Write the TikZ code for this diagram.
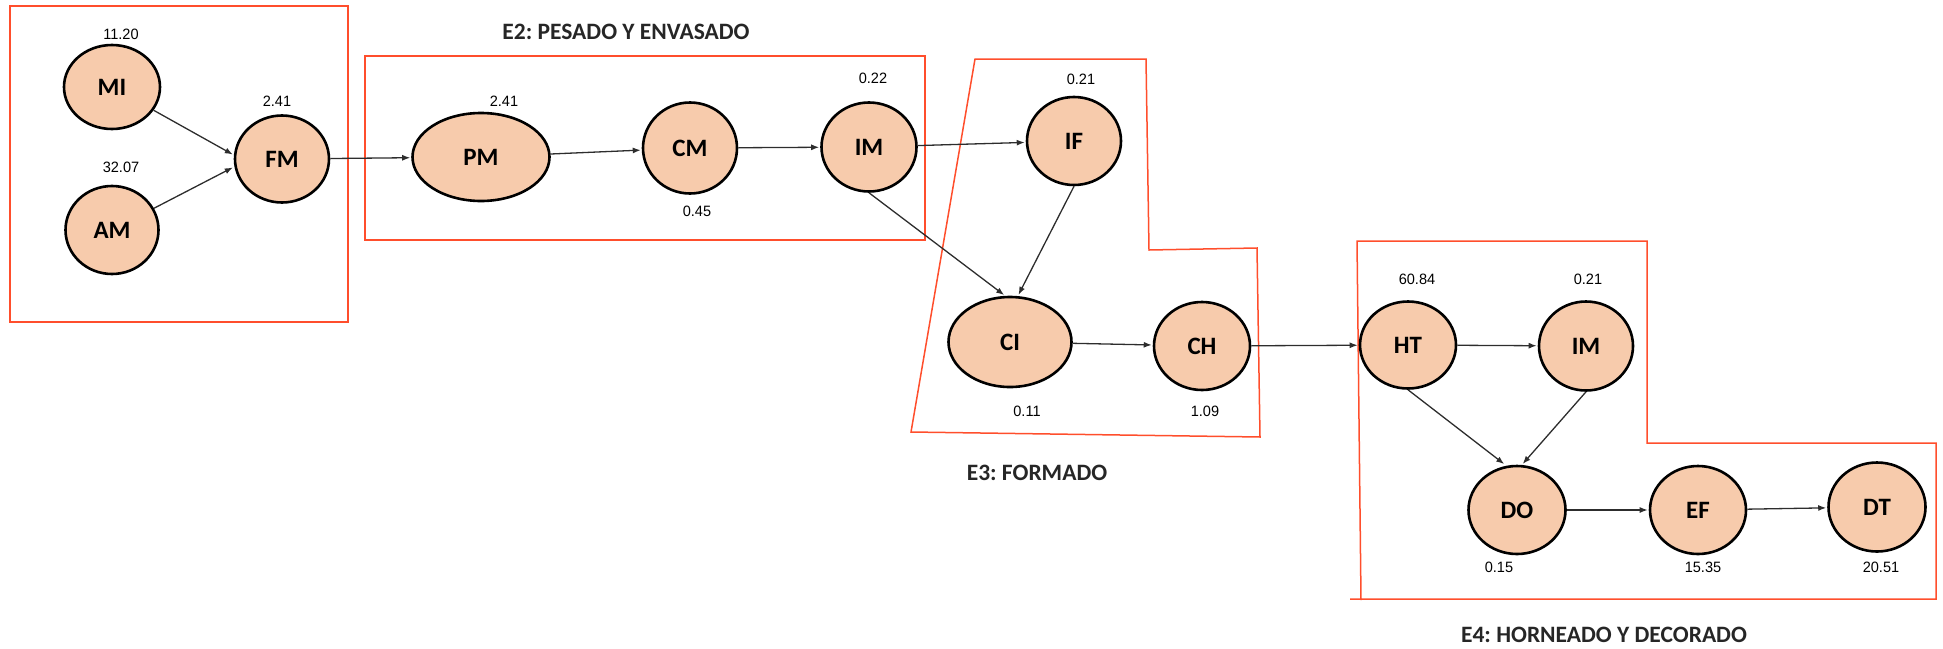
\documentclass[tikz,border=0pt]{standalone}
\usepackage{fontspec}
\setmainfont{Carlito}
\newfontfamily\numfont[FakeStretch=0.97]{Liberation Sans}
\usetikzlibrary{shapes.geometric,arrows.meta}
\frenchspacing
\definecolor{peach}{RGB}{247,203,172}
\definecolor{boxred}{RGB}{255,78,44}
\definecolor{arrowgray}{RGB}{45,45,45}
\tikzset{
  proc/.style={ellipse, draw=black, line width=2.6pt, fill=peach, inner sep=0pt,
     font=\fontsize{25}{25}\selectfont\bfseries},
  val/.style={font=\numfont\fontsize{15}{15}\selectfont, inner sep=0pt},
  stagebox/.style={draw=boxred, line width=1.5pt},
  stagetitle/.style={font=\fontsize{23.5}{23.5}\selectfont\bfseries, text=black!85, inner sep=0pt},
  flow/.style={draw=arrowgray, line width=1.3pt, -{Latex[length=8pt,width=6pt]}, shorten >=1pt}
}
\begin{document}
\begin{tikzpicture}[x=1pt,y=-1pt]
\useasboundingbox (0,0) rectangle (1943,648);
% stage boxes
\draw[stagebox] (10,6) rectangle (348,322);
\draw[stagebox] (365,56) rectangle (925,240);
\draw[stagebox] (975,59) -- (1146,59) -- (1149,250) -- (1257,248) -- (1260,437) -- (911,432) -- cycle;
\draw[stagebox] (1350,599) -- (1936,599) -- (1936,443) -- (1647,443) -- (1647,241) -- (1357,241) -- (1361,600);
% titles
\node[stagetitle] (t2) at (626,32) {E2: PESADO Y ENVASADO};
\node[stagetitle] (t3) at (1037,473) {E3: FORMADO};
\node[stagetitle] (t4) at (1604,635) {E4: HORNEADO Y DECORADO};
% nodes
\node[proc, minimum width=96pt, minimum height=84pt] (MI) at (112,87) {MI};
\node[proc, minimum width=93pt, minimum height=88pt] (AM) at (112,230) {AM};
\node[proc, minimum width=94pt, minimum height=87pt] (FM) at (282,159) {FM};
\node[proc, minimum width=137pt, minimum height=88pt] (PM) at (481,157) {PM};
\node[proc, minimum width=94pt, minimum height=91pt] (CM) at (690,148) {CM};
\node[proc, minimum width=95pt, minimum height=89pt] (IMa) at (869,147) {IM};
\node[proc, minimum width=94pt, minimum height=88pt] (IF) at (1074,141) {IF};
\node[proc, minimum width=123pt, minimum height=90pt] (CI) at (1010,342) {CI};
\node[proc, minimum width=96pt, minimum height=88pt] (CH) at (1202,346) {CH};
\node[proc, minimum width=96pt, minimum height=87pt] (HT) at (1408,345) {HT};
\node[proc, minimum width=94pt, minimum height=89pt] (IMb) at (1586,346) {IM};
\node[proc, minimum width=97pt, minimum height=88pt] (DO) at (1517,510) {DO};
\node[proc, minimum width=96pt, minimum height=88pt] (EF) at (1698,510) {EF};
\node[proc, minimum width=97pt, minimum height=89pt] (DT) at (1877,507) {DT};
% values
\node[val] (vMI) at (121,34) {11.20};
\node[val] (vAM) at (121,167) {32.07};
\node[val] (vFM) at (277,101) {2.41};
\node[val] (vPM) at (504,101) {2.41};
\node[val] (vCM) at (697,211) {0.45};
\node[val] (vIMa) at (873,78) {0.22};
\node[val] (vIF) at (1081,79) {0.21};
\node[val] (vCI) at (1027,411) {0.11};
\node[val] (vCH) at (1205,411) {1.09};
\node[val] (vHT) at (1417,279) {60.84};
\node[val] (vIMb) at (1588,279) {0.21};
\node[val] (vDO) at (1499,567) {0.15};
\node[val] (vEF) at (1703,567) {15.35};
\node[val] (vDT) at (1881,567) {20.51};
% connectors
\draw[flow] (MI) -- ([yshift=4pt]FM.west);
\draw[flow] (AM) -- ([yshift=-8pt]FM.west);
\draw[flow] (FM) -- (PM);
\draw[flow] (PM) -- (CM);
\draw[flow] (CM) -- (IMa);
\draw[flow] (IMa) -- (IF);
\draw[flow] (IMa.south) -- ([xshift=-5pt]CI.north);
\draw[flow] (IF.south) -- ([xshift=8pt]CI.north);
\draw[flow] (CI) -- (CH);
\draw[flow] (CH) -- (HT);
\draw[flow] (HT) -- (IMb);
\draw[flow] (HT.south) -- ([xshift=-12pt]DO.north);
\draw[flow] (IMb.south) -- ([xshift=5pt]DO.north);
\draw[flow] (DO) -- (EF);
\draw[flow] (EF) -- (DT);
\end{tikzpicture}
\end{document}
